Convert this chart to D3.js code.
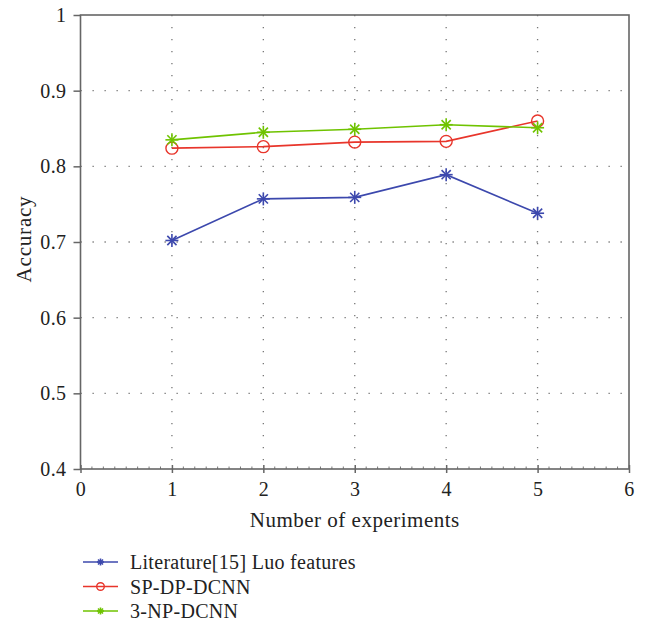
<!DOCTYPE html>
<html>
<head>
<meta charset="utf-8">
<script src="https://cdn.jsdelivr.net/npm/d3@7"></script>
<style>
  body { margin: 0; background: #fff; }
  text { font-family: "Liberation Serif", "DejaVu Serif", serif; fill: #222; }
</style>
</head>
<body>
<div id="chart"></div>
<script>
const experiments = [1, 2, 3, 4, 5];
const luo = [0.702, 0.757, 0.759, 0.789, 0.738];
const spdp = [0.824, 0.826, 0.832, 0.833, 0.860];
const np3 = [0.835, 0.845, 0.849, 0.855, 0.851];
const seriesNames = ["Literature[15] Luo features", "SP-DP-DCNN", "3-NP-DCNN"];
const xTicks = [0, 1, 2, 3, 4, 5, 6];
const yTicks = [0.4, 0.5, 0.6, 0.7, 0.8, 0.9, 1];

const width = 645, height = 627;
const margin = { left: 80.5, right: 16, top: 15, bottom: 158 };

const series = [
  { name: seriesNames[0], values: luo, color: "#3c48ad", marker: "star" },
  { name: seriesNames[1], values: spdp, color: "#e8352b", marker: "circle" },
  { name: seriesNames[2], values: np3, color: "#6fc300", marker: "star" }
];

const svg = d3.select("#chart")
  .append("svg")
    .attr("width", width)
    .attr("height", height);

const x = d3.scaleLinear().domain([0, 6]).range([margin.left, width - margin.right]);
const y = d3.scaleLinear().domain([0.4, 1]).range([height - margin.bottom, margin.top]);

// dotted grid
svg.append("g")
  .selectAll("line")
  .data(xTicks.slice(1, -1))
  .enter().append("line")
    .attr("x1", d => x(d)).attr("x2", d => x(d))
    .attr("y1", y(1)).attr("y2", y(0.4))
    .attr("stroke", "#777")
    .attr("stroke-width", 1.3)
    .attr("stroke-dasharray", "1.3,10.7");
svg.append("g")
  .selectAll("line")
  .data(yTicks.slice(1, -1))
  .enter().append("line")
    .attr("x1", x(0)).attr("x2", x(6))
    .attr("y1", d => y(d)).attr("y2", d => y(d))
    .attr("stroke", "#777")
    .attr("stroke-width", 1.3)
    .attr("stroke-dasharray", "1.3,10.7");

// axes
const xAxis = svg.append("g")
  .attr("transform", `translate(0,${y(0.4)})`)
  .call(d3.axisBottom(x).tickValues(xTicks).tickSize(4).tickPadding(9).tickFormat(d3.format("d")));
const yAxis = svg.append("g")
  .attr("transform", `translate(${x(0)},0)`)
  .call(d3.axisLeft(y).tickValues(yTicks).tickSize(7).tickPadding(7).tickFormat(d => d === 1 ? "1" : d3.format(".1f")(d)));

[xAxis, yAxis].forEach(g => {
  g.attr("font-family", '"Liberation Serif", serif').attr("font-size", 20);
  g.select(".domain").remove();
  g.selectAll(".tick line").attr("stroke", "#666").attr("stroke-width", 1.5);
  g.selectAll(".tick text").style("font-size", "20px").style("letter-spacing", "0.4px").attr("fill", "#222")
    .style("font-family", '"Liberation Serif", serif');
});
xAxis.selectAll(".tick line").attr("y1", -4);
yAxis.selectAll(".tick line").attr("x1", 0);

// minor ticks on x axis
const minor = d3.range(0, 6.001, 0.125).filter(v => Math.abs(v - Math.round(v)) > 1e-6);
svg.append("g")
  .selectAll("line")
  .data(minor)
  .enter().append("line")
    .attr("x1", d => x(d)).attr("x2", d => x(d))
    .attr("y1", y(0.4)).attr("y2", y(0.4) - 2.5)
    .attr("stroke", "#777")
    .attr("stroke-width", 1);

// frame
svg.append("rect")
  .attr("x", x(0)).attr("y", y(1))
  .attr("width", x(6) - x(0)).attr("height", y(0.4) - y(1))
  .attr("fill", "none")
  .attr("stroke", "#666")
  .attr("stroke-width", 1.6);

function drawMarker(g, type, color, r) {
  if (type === "circle") {
    g.append("circle").attr("r", r).attr("fill", "none").attr("stroke", color).attr("stroke-width", 1.4);
  } else {
    [0, 45, 90, 135].forEach(a => {
      const rad = a * Math.PI / 180;
      g.append("line")
        .attr("x1", -r * Math.cos(rad)).attr("y1", -r * Math.sin(rad))
        .attr("x2", r * Math.cos(rad)).attr("y2", r * Math.sin(rad))
        .attr("stroke", color).attr("stroke-width", 1.6);
    });
  }
}

const line = d3.line().x((d, i) => x(experiments[i])).y(d => y(d));

series.forEach(s => {
  svg.append("path")
    .datum(s.values)
    .attr("d", line)
    .attr("fill", "none")
    .attr("stroke", s.color)
    .attr("stroke-width", 1.6);
  s.values.forEach((v, i) => {
    const g = svg.append("g").attr("transform", `translate(${x(experiments[i])},${y(v)})`);
    drawMarker(g, s.marker, s.color, s.marker === "circle" ? 6 : 6.5);
  });
});

// axis titles
svg.append("text")
  .attr("x", (x(0) + x(6)) / 2)
  .attr("y", 527)
  .attr("text-anchor", "middle")
  .style("font-size", "21px")
  .style("letter-spacing", "0.5px")
  .text("Number of experiments");
svg.append("text")
  .attr("transform", `translate(31,${(y(0.4) + y(1)) / 2 - 3}) rotate(-90)`)
  .attr("text-anchor", "middle")
  .style("font-size", "21px")
  .style("letter-spacing", "0.8px")
  .text("Accuracy");

// legend
const legend = svg.append("g").attr("transform", "translate(83,562)");
series.forEach((s, i) => {
  const g = legend.append("g").attr("transform", `translate(0,${i * 24.5})`);
  g.append("line").attr("x1", 0).attr("x2", 35).attr("y1", 0).attr("y2", 0)
    .attr("stroke", s.color).attr("stroke-width", 1.5);
  const m = g.append("g").attr("transform", "translate(17.5,0)");
  drawMarker(m, s.marker, s.color, s.marker === "circle" ? 3.8 : 3.5);
  g.append("text").attr("x", 47).attr("y", 7).style("font-size", "20px")
    .style("letter-spacing", "0.3px").text(s.name);
});
</script>
</body>
</html>
